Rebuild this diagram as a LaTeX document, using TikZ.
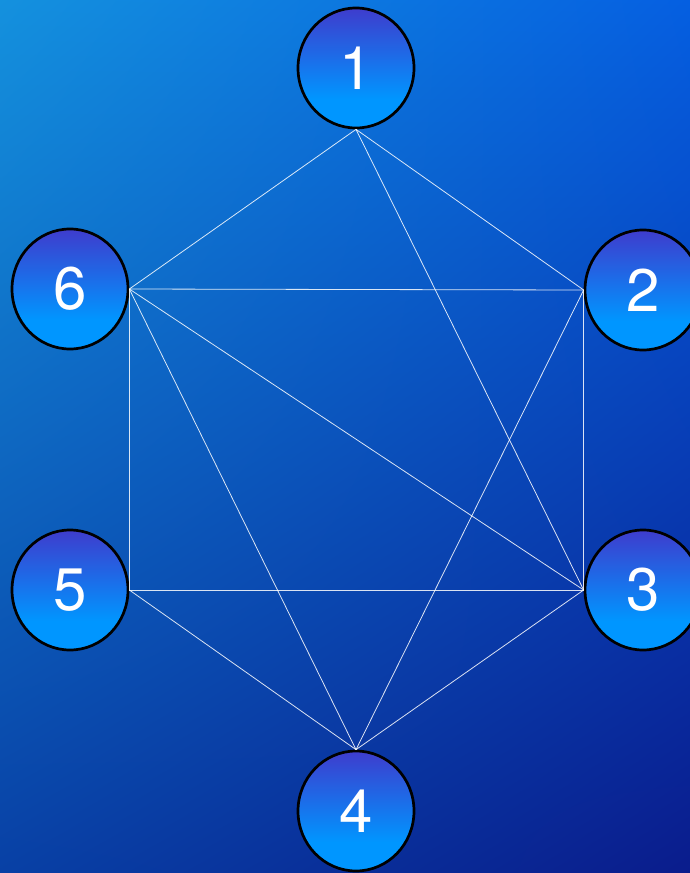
\documentclass[tikz,border=0pt]{standalone}
\usepackage{fontspec}
\setmainfont{TeX Gyre Heros}
\usetikzlibrary{shapes.geometric,shadings}
\definecolor{nodeTop}{RGB}{62,60,205}
\definecolor{nodeBot}{RGB}{0,150,255}
\definecolor{bgUL}{RGB}{20,145,222}
\definecolor{bgUR}{RGB}{5,95,225}
\definecolor{bgLL}{RGB}{8,64,165}
\definecolor{bgLR}{RGB}{10,28,140}
\pgfdeclareverticalshading{nodeshade}{100bp}{color(0bp)=(nodeBot); color(37bp)=(nodeBot); color(75bp)=(nodeTop); color(100bp)=(nodeTop)}
\tikzset{
  vtx/.style={ellipse, draw=black, line width=2.7pt, shading=nodeshade,
    minimum width=116pt, minimum height=120pt, inner sep=0pt,
    text=white, font=\fontsize{60}{60}\selectfont},
  edge/.style={draw=white, line width=0.8pt, opacity=0.85}
}
\begin{document}
\begin{tikzpicture}[x=1pt,y=-1pt]
\useasboundingbox (0,0) rectangle (690,873);
\shade[upper left=bgUL, upper right=bgUR, lower left=bgLL, lower right=bgLR] (0,0) rectangle (690,873);
\node[vtx] (n1) at (356,68) {1};
\node[vtx] (n2) at (643,290) {2};
\node[vtx] (n3) at (643,590) {3};
\node[vtx] (n4) at (356,811) {4};
\node[vtx] (n5) at (70,590) {5};
\node[vtx] (n6) at (70,289) {6};
\draw[edge] (n1.south) -- (n6.east);
\draw[edge] (n1.south) -- (n2.west);
\draw[edge] (n1.south) -- (n3.west);
\draw[edge] (n6.east) -- (n2.west);
\draw[edge] (n6.east) -- (n5.east);
\draw[edge] (n6.east) -- (n3.west);
\draw[edge] (n6.east) -- (n4.north);
\draw[edge] (n2.west) -- (n3.west);
\draw[edge] (n2.west) -- (n4.north);
\draw[edge] (n5.east) -- (n3.west);
\draw[edge] (n5.east) -- (n4.north);
\draw[edge] (n3.west) -- (n4.north);
\end{tikzpicture}
\end{document}
